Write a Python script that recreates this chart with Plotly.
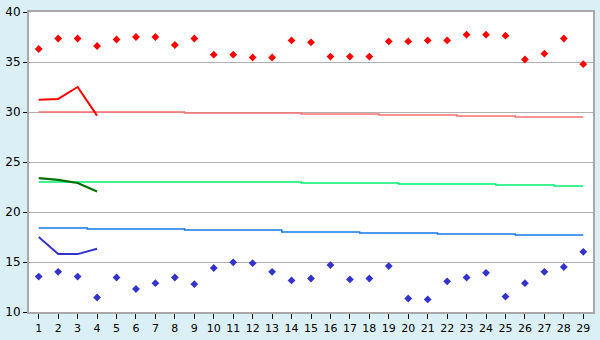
import plotly.graph_objects as go

days = list(range(1, 30))
red_points = [36.3, 37.35, 37.35, 36.6, 37.25, 37.5, 37.5, 36.7, 37.35, 35.73,
              35.73, 35.45, 35.45, 37.16, 36.97, 35.54, 35.54, 35.54, 37.06, 37.06,
              37.16, 37.16, 37.73, 37.73, 37.63, 35.25, 35.83, 37.35, 34.78]
blue_points = [13.54, 14.02, 13.54, 11.45, 13.45, 12.3, 12.88, 13.45, 12.78, 14.4,
               14.97, 14.88, 14.02, 13.16, 13.35, 14.69, 13.26, 13.35, 14.59, 11.35,
               11.26, 13.07, 13.45, 13.92, 11.54, 12.88, 14.02, 14.5, 16.02]
red_ref = [30.0, 30.0, 30.0, 30.0, 30.0, 30.0, 30.0, 30.0, 29.9, 29.9,
           29.9, 29.9, 29.9, 29.9, 29.8, 29.8, 29.8, 29.8, 29.7, 29.7,
           29.7, 29.7, 29.6, 29.6, 29.6, 29.5, 29.5, 29.5, 29.5]
green_ref = [23.0, 23.0, 23.0, 23.0, 23.0, 23.0, 23.0, 23.0, 23.0, 23.0,
             23.0, 23.0, 23.0, 23.0, 22.9, 22.9, 22.9, 22.9, 22.9, 22.8,
             22.8, 22.8, 22.8, 22.8, 22.7, 22.7, 22.7, 22.6, 22.6]
blue_ref = [18.4, 18.4, 18.4, 18.3, 18.3, 18.3, 18.3, 18.3, 18.2, 18.2,
            18.2, 18.2, 18.2, 18.0, 18.0, 18.0, 18.0, 17.9, 17.9, 17.9,
            17.9, 17.8, 17.8, 17.8, 17.8, 17.7, 17.7, 17.7, 17.7]
short_days = [1, 2, 3, 4]
red_line = [31.22, 31.31, 32.5, 29.64]
green_line = [23.38, 23.22, 22.9, 22.05]
blue_line = [17.5, 15.79, 15.79, 16.33]

fig = go.Figure()
fig.add_trace(go.Scatter(x=days, y=red_ref, mode="lines", line=dict(color="#ff7070", width=1.5, shape="hvh")))
fig.add_trace(go.Scatter(x=days, y=green_ref, mode="lines", line=dict(color="#00f070", width=1.5, shape="hvh")))
fig.add_trace(go.Scatter(x=days, y=blue_ref, mode="lines", line=dict(color="#1478e8", width=1.5, shape="hvh")))
fig.add_trace(go.Scatter(x=short_days, y=red_line, mode="lines", line=dict(color="#ff0000", width=2)))
fig.add_trace(go.Scatter(x=short_days, y=green_line, mode="lines", line=dict(color="#007000", width=2.2)))
fig.add_trace(go.Scatter(x=short_days, y=blue_line, mode="lines", line=dict(color="#3333cc", width=2)))
fig.add_trace(go.Scatter(x=days, y=red_points, mode="markers", marker=dict(color="#ff0000", symbol="diamond", size=6)))
fig.add_trace(go.Scatter(x=days, y=blue_points, mode="markers", marker=dict(color="#3333cc", symbol="diamond", size=6)))

fig.update_layout(
    width=600, height=340,
    margin=dict(l=20, r=5, t=5, b=20),
    paper_bgcolor="#daf0f6", plot_bgcolor="#ffffff",
    showlegend=False,
    font=dict(family="DejaVu Sans", size=11, color="#000000"),
)
fig.update_xaxes(range=[0.5, 29.5], tickvals=days, showgrid=False, zeroline=False,
                 showline=True, linecolor="#a8a8a8", linewidth=2, mirror=True,
                 ticks="outside", ticklen=5, tickcolor="#000000", tickfont=dict(size=11))
fig.update_yaxes(range=[10, 40], tickvals=[10, 15, 20, 25, 30, 35, 40], showgrid=True,
                 gridcolor="#b0b0b0", gridwidth=1, zeroline=False,
                 showline=True, linecolor="#a8a8a8", linewidth=2, mirror=True,
                 ticks="outside", ticklen=4, tickcolor="#000000", tickfont=dict(size=12))

fig.write_html("out.html")
